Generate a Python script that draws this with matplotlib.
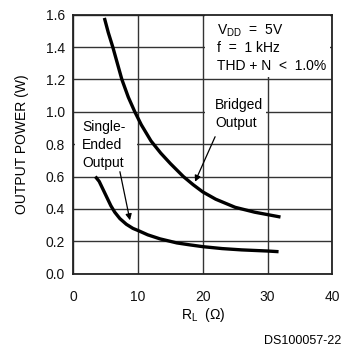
import matplotlib
matplotlib.use("Agg")
import matplotlib.pyplot as plt
from matplotlib.patches import Rectangle

plt.rcParams['font.family'] = ['Liberation Sans', 'DejaVu Sans']
plt.rcParams['mathtext.default'] = 'regular'

# Data
bridged_r = [4.8, 5.4, 6.1, 6.8, 7.5, 8.5, 9.5, 10.5, 12.0, 13.5, 15.0, 17.0, 18.5, 20.0, 22.0, 25.0, 28.0, 30.0, 32.0]
bridged_p = [1.58, 1.49, 1.40, 1.30, 1.20, 1.09, 1.00, 0.92, 0.82, 0.745, 0.68, 0.60, 0.55, 0.505, 0.46, 0.41, 0.38, 0.365, 0.35]

single_r = [3.4, 4.0, 4.6, 5.2, 5.8, 6.4, 7.2, 8.2, 9.2, 10.1, 11.5, 13.4, 16.0, 18.0, 20.0, 23.0, 26.0, 30.0, 31.7]
single_p = [0.60, 0.57, 0.52, 0.47, 0.42, 0.38, 0.34, 0.305, 0.28, 0.265, 0.24, 0.215, 0.19, 0.178, 0.167, 0.155, 0.147, 0.14, 0.136]

x_ticks = [0, 10, 20, 30, 40]
y_ticks = [0.0, 0.2, 0.4, 0.6, 0.8, 1.0, 1.2, 1.4, 1.6]
y_tick_labels = ["0.0", "0.2", "0.4", "0.6", "0.8", "1.0", "1.2", "1.4", "1.6"]

fig = plt.figure(figsize=(3.43, 3.49), dpi=100)
ax = fig.add_axes([0.2137, 0.2158, 0.9688 - 0.2137, 0.9579 - 0.2158])
ax.set_xlim(0, 40)
ax.set_ylim(0, 1.6)
ax.set_xticks(x_ticks)
ax.set_xticklabels([str(t) for t in x_ticks])
ax.set_yticks(y_ticks)
ax.set_yticklabels(y_tick_labels)
ax.tick_params(length=0, labelsize=10, colors='#111111')
ax.tick_params(axis='x', pad=12)
ax.tick_params(axis='y', pad=6)
ax.set_axisbelow(True)
ax.grid(True, color='#333333', lw=1.0)
for s in ax.spines.values():
    s.set_linewidth(1.3)
    s.set_color('#222222')

# white boxes behind annotations (break the grid like the reference)
for (x0, y0, x1, y1) in [(20.3, 1.215, 39.6, 1.6), (20.3, 0.86, 29.7, 1.1), (0.2, 0.62, 9.85, 0.97)]:
    ax.add_patch(Rectangle((x0, y0), x1 - x0, y1 - y0, facecolor='white', edgecolor='none', zorder=1))

ax.plot(bridged_r, bridged_p, color='black', lw=2.4, zorder=3, solid_capstyle='butt')
ax.plot(single_r, single_p, color='black', lw=2.4, zorder=3, solid_capstyle='butt')

ax.text(22.2, 1.5, "V$_{DD}$  =  5V", fontsize=10, va='center', ha='left', zorder=4)
ax.text(22.2, 1.395, "f  =  1 kHz", fontsize=10, va='center', ha='left', zorder=4)
ax.text(22.2, 1.28, "THD + N  <  1.0%", fontsize=10, va='center', ha='left', zorder=4)

ax.text(21.9, 1.04, "Bridged", fontsize=10, va='center', ha='left', zorder=4)
ax.text(21.9, 0.93, "Output", fontsize=10, va='center', ha='left', zorder=4)

ax.text(1.4, 0.905, "Single-", fontsize=10, va='center', ha='left', zorder=4)
ax.text(1.4, 0.795, "Ended", fontsize=10, va='center', ha='left', zorder=4)
ax.text(1.4, 0.685, "Output", fontsize=10, va='center', ha='left', zorder=4)

arrow = dict(arrowstyle='-|>', lw=0.9, color='black', mutation_scale=9, shrinkA=0, shrinkB=0)
ax.annotate("", xy=(8.75, 0.33), xytext=(7.2, 0.63), arrowprops=arrow, zorder=4)
ax.annotate("", xy=(18.8, 0.568), xytext=(21.9, 0.846), arrowprops=arrow, zorder=4)

ax.set_ylabel("OUTPUT POWER (W)", fontsize=10, labelpad=12)
fig.text(0.592, 0.098, "R$_L$  (Ω)", fontsize=10, ha='center', va='center')
fig.text(0.995, 0.023, "DS100057-22", fontsize=9, ha='right', va='center')

fig.savefig("out.png", dpi=100)
